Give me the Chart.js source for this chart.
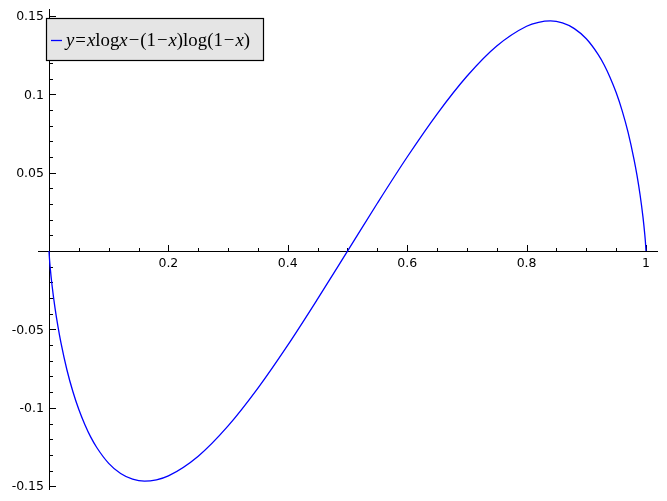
<!DOCTYPE html>
<html>
<head>
<meta charset="utf-8">
<script src="https://cdn.jsdelivr.net/npm/chart.js@4/dist/chart.umd.min.js"></script>
<style>
    html, body { margin: 0; padding: 0; background: #ffffff; }
    #plot { display: block; }
</style>
</head>
<body>
<canvas id="plot" width="667" height="501"></canvas>
<script>
// Curve points (dense near the ends where it is steep)
const xValues = [0, 0.001, 0.002, 0.005, 0.01, 0.015, 0.02, 0.03, 0.04, 0.05, 0.06, 0.07, 0.08, 0.1, 0.12, 0.14, 0.16, 0.18, 0.2,
    0.25, 0.3, 0.35, 0.4, 0.45, 0.5, 0.55, 0.6, 0.65, 0.7, 0.75, 0.8, 0.82, 0.84, 0.86, 0.88, 0.9,
    0.92, 0.93, 0.94, 0.95, 0.96, 0.97, 0.98, 0.985, 0.99, 0.995, 0.998, 0.999, 1];
const yValues = [0, -0.0059, -0.0104, -0.0215, -0.0361, -0.0481, -0.0584, -0.0757, -0.0896, -0.1011, -0.1106, -0.1187, -0.1253, -0.1354, -0.1419, -0.1455, -0.1468, -0.1459, -0.1434,
    -0.1308, -0.1115, -0.0874, -0.0600, -0.0305, 0, 0.0305, 0.0600, 0.0874, 0.1115, 0.1308, 0.1434, 0.1459, 0.1468, 0.1455, 0.1419, 0.1354,
    0.1253, 0.1187, 0.1106, 0.1011, 0.0896, 0.0757, 0.0584, 0.0481, 0.0361, 0.0215, 0.0104, 0.0059, 0];

// Tick labels
const xTickLabels = ['0.2', '0.4', '0.6', '0.8', '1'];
const xTickValues = [0.2, 0.4, 0.6, 0.8, 1];
const yTickLabels = ['0.15', '0.1', '0.05', '-0.05', '-0.1', '-0.15'];
const yTickValues = [0.15, 0.1, 0.05, -0.05, -0.1, -0.15];

// Legend label, split into pieces so the variables can be italic
const legendPieces = [
    ['y', true], ['=', false], ['x', true], ['log', false], ['x', true], ['\u2212', false],
    ['(1', false], ['\u2212', false], ['x', true], [')log(1', false], ['\u2212', false], ['x', true], [')', false]
];

const tickFont = '12.5px "DejaVu Sans"';
const legendFace = '"Liberation Serif"';

function pieceFont(italic, size) {
    return (italic ? 'italic ' : '') + size + 'px ' + legendFace;
}

// Draws sage-style axes crossing at the origin, plus the legend box
const sageAxes = {
    id: 'sageAxes',
    beforeDatasetsDraw(chart) {
        const ctx = chart.ctx;
        const xs = chart.scales.x;
        const ys = chart.scales.y;
        const area = chart.chartArea;
        const x0 = xs.getPixelForValue(0);
        const y0 = ys.getPixelForValue(0);

        ctx.save();
        ctx.strokeStyle = '#000';
        ctx.lineWidth = 1;

        // axis lines
        ctx.beginPath();
        ctx.moveTo(area.left, Math.round(y0) + 0.5);
        ctx.lineTo(area.right, Math.round(y0) + 0.5);
        ctx.moveTo(Math.round(x0) + 0.5, area.top);
        ctx.lineTo(Math.round(x0) + 0.5, area.bottom);
        ctx.stroke();

        // x ticks: minor every 0.05, major every 0.2
        ctx.beginPath();
        for (let i = 1; i <= 20; i++) {
            const v = i * 0.05;
            const px = Math.round(xs.getPixelForValue(v)) + 0.5;
            const len = (i % 4 === 0) ? 6 : 3;
            ctx.moveTo(px, Math.round(y0));
            ctx.lineTo(px, Math.round(y0) - len);
        }
        // y ticks: minor every 0.01, major every 0.05
        for (let i = -15; i <= 15; i++) {
            if (i === 0) continue;
            const v = i * 0.01;
            const py = Math.round(ys.getPixelForValue(v)) + 0.5;
            const len = (i % 5 === 0) ? 6 : 3;
            ctx.moveTo(Math.round(x0) + 1, py);
            ctx.lineTo(Math.round(x0) + 1 + len, py);
        }
        ctx.stroke();

        // tick labels
        ctx.fillStyle = '#000';
        ctx.font = tickFont;
        ctx.textAlign = 'center';
        ctx.textBaseline = 'top';
        xTickValues.forEach((v, i) => {
            ctx.fillText(xTickLabels[i], xs.getPixelForValue(v), y0 + 6);
        });
        ctx.textAlign = 'right';
        ctx.textBaseline = 'middle';
        yTickValues.forEach((v, i) => {
            ctx.fillText(yTickLabels[i], x0 - 5, ys.getPixelForValue(v) + 1);
        });
        ctx.restore();
    },
    afterDatasetsDraw(chart) {
        const ctx = chart.ctx;
        ctx.save();
        // legend frame
        ctx.fillStyle = '#e5e5e5';
        ctx.fillRect(46, 18, 218, 43);
        ctx.strokeStyle = '#000';
        ctx.lineWidth = 1.2;
        ctx.strokeRect(46.5, 18.5, 217, 42);

        // legend line sample
        ctx.strokeStyle = '#0000ff';
        ctx.lineWidth = 1.3;
        ctx.beginPath();
        ctx.moveTo(51, 40.5);
        ctx.lineTo(62, 40.5);
        ctx.stroke();

        // legend label, sized so it spans the same width as the original
        const pad = t => (t === '=' || t === '\u2212') ? 1 : 0;
        let natural = 0;
        legendPieces.forEach(([t, italic]) => {
            ctx.font = pieceFont(italic, 17);
            natural += ctx.measureText(t).width + 2 * pad(t);
        });
        const size = 17 * 185 / natural;

        ctx.fillStyle = '#000';
        ctx.textBaseline = 'alphabetic';
        ctx.textAlign = 'left';
        let x = 66;
        legendPieces.forEach(([t, italic]) => {
            ctx.font = pieceFont(italic, size);
            x += pad(t);
            ctx.fillText(t, x, 46);
            x += ctx.measureText(t).width + pad(t);
        });
        ctx.restore();
    }
};

const ctx = document.getElementById('plot').getContext('2d');
new Chart(ctx, {
    type: 'line',
    data: {
        datasets: [{
            label: 'y=xlogx-(1-x)log(1-x)',
            data: xValues.map((x, i) => ({ x: x, y: yValues[i] })),
            borderColor: '#0000ff',
            borderWidth: 1.3,
            pointRadius: 0,
            fill: false,
            cubicInterpolationMode: 'monotone'
        }]
    },
    options: {
        responsive: false,
        animation: false,
        devicePixelRatio: 1,
        layout: { padding: { left: 38, right: 9, top: 9, bottom: 11 } },
        plugins: { legend: { display: false }, tooltip: { enabled: false } },
        scales: {
            x: { type: 'linear', display: false, min: -0.0184, max: 1.0201 },
            y: { type: 'linear', display: false, min: -0.1524, max: 0.1544 }
        }
    },
    plugins: [sageAxes]
});
</script>
</body>
</html>
